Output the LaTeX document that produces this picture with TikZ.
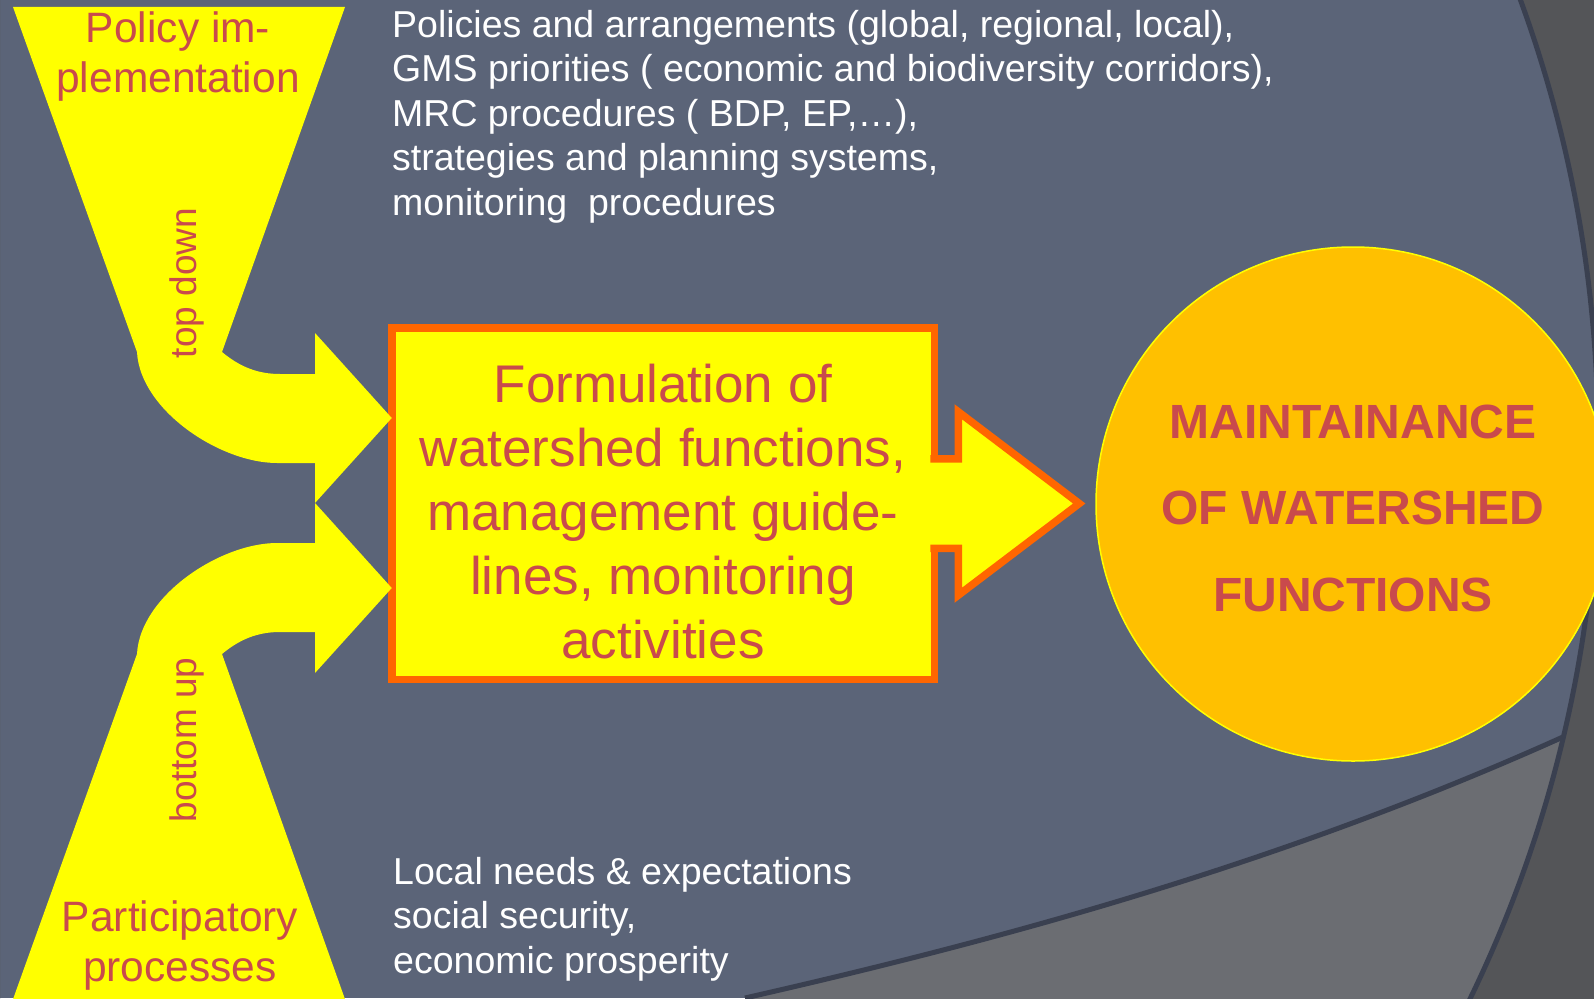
\documentclass[tikz,border=0pt]{standalone}
\usepackage{fontspec}
\setmainfont{Liberation Sans}
\usepackage{tikz}
\usetikzlibrary{positioning, calc}

\definecolor{slate}{HTML}{5B6478}
\definecolor{fyellow}{HTML}{FFFF00}
\definecolor{forange}{HTML}{FF6600}
\definecolor{gold}{HTML}{FFC000}
\definecolor{txtred}{HTML}{C94A4C}
\definecolor{midgray}{HTML}{6B6D72}
\definecolor{deepgray}{HTML}{545558}
\definecolor{seam}{HTML}{3A4050}

\begin{document}
\begin{tikzpicture}[x=1pt, y=-1pt,
        funnel/.style={fill=fyellow},
        redtext/.style={text=txtred, align=center, inner sep=0pt},
        whitetext/.style={text=white, align=left, inner sep=0pt, anchor=north west, font=\fontsize{37.5}{44.5}\selectfont},
        formbox/.style={draw=forange, fill=fyellow, line width=7.5pt, minimum width=542.5pt, minimum height=351.5pt, inner sep=0pt, outer sep=0pt},
        goal/.style={circle, draw=fyellow, fill=gold, line width=1.5pt, minimum size=514pt, inner sep=0pt}]
                \useasboundingbox (0,0) rectangle (1594,998);
                % background
                \fill[slate] (0,0) rectangle (1594,998);
                \fill[midgray] (745,998) .. controls (1000,940) and (1300,860) .. (1600,720) -- (1600,1005) -- (745,1005) -- cycle;
                \draw[seam, line width=5pt] (745,998) .. controls (1000,940) and (1300,860) .. (1600,720);
                \fill[deepgray, even odd rule] (0,-5) rectangle (1600,1005) (317,440) circle[radius=1281pt];
                \draw[seam, line width=5pt] (317,440) circle[radius=1281pt];

                \node[formbox] (form) at (663,503.5) {};
                % funnels
                \fill[funnel] (13,7) -- (345,7) -- (222,352) .. controls (240,367) and (258,374) .. (280,374) -- (315,374) -- (315,333)
                        -- (form.west |- 0,418) -- (315,503) -- (315,463) -- (277,463) .. controls (220,463) and (140,410) .. (137,352) -- cycle;
                \fill[funnel] (12,1002) -- (346,1002) -- (222,654) .. controls (240,639) and (258,632) .. (280,632) -- (315,632) -- (315,673)
                        -- (form.west |- 0,588) -- (315,503) -- (315,543) -- (277,543) .. controls (220,543) and (140,596) .. (137,654) -- cycle;
                \draw[forange, fill=fyellow, line width=7.5pt, miter limit=10] (form.east) ++(-4,-44.75) -- ++(28,0) -- ++(0,-47)
                        -- ++(121,91.75) -- ++(-121,91.75) -- ++(0,-47) -- ++(-28,0);

                \node[redtext, font=\fontsize{53}{64}\selectfont] (form_t) at ($(form.center)+(0,8)$)
                        {Formulation of\\watershed functions,\\management guide-\\lines, monitoring\\activities};
                \node[goal] (main) at (1353,504) {};
                \node[redtext, font=\bfseries\fontsize{48}{86.5}\selectfont] (main_t) at ($(main.center)+(0,4)$) {MAINTAINANCE\\OF WATERSHED\\FUNCTIONS};

                \node[redtext, font=\fontsize{42.5}{50}\selectfont] (pol) at (178,57) {Policy im-\\plementation};
                \node[redtext, font=\fontsize{42.5}{50}\selectfont] (part) at (180,945) {Participatory\\processes};
                \node[redtext, rotate=90, font=\fontsize{37}{44}\selectfont] (td) at (187,283) {top down};
                \node[redtext, rotate=90, font=\fontsize{37}{44}\selectfont] (bu) at (187,740) {bottom up};

                \node[whitetext] (pol_l) at (392,10) {Policies and arrangements (global, regional, local),\\GMS priorities ( economic and biodiversity corridors),\\MRC procedures ( BDP, EP,…),\\strategies and planning systems,\\monitoring\ \ procedures};
                \node[whitetext] (part_l) at (393,857) {Local needs \& expectations\\social security,\\economic prosperity};
        \end{tikzpicture}
\end{document}
